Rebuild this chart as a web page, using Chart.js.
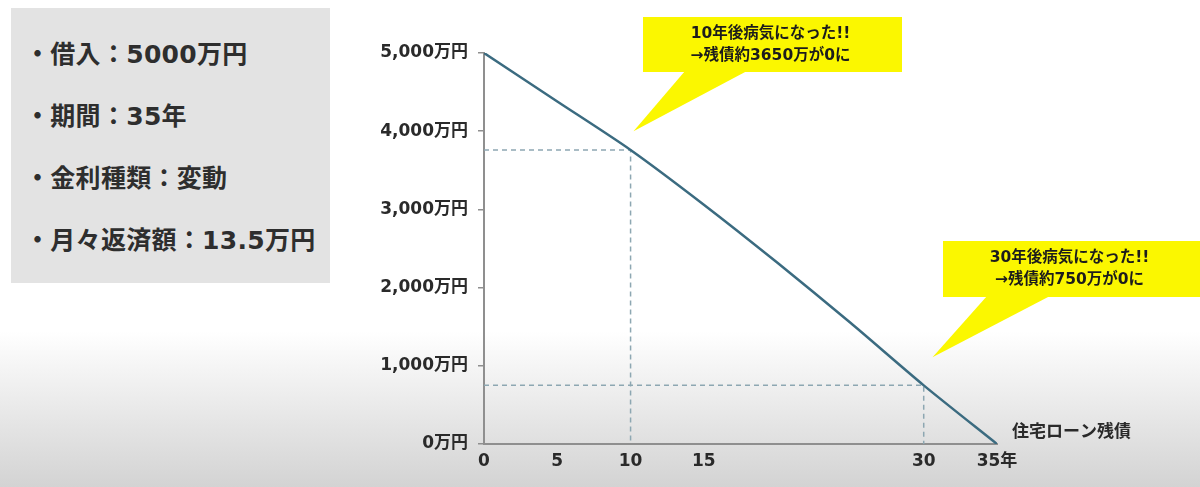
<!DOCTYPE html>
<html>
<head>
<meta charset="utf-8">
<script src="https://cdn.jsdelivr.net/npm/chart.js@4.4.0/dist/chart.umd.min.js"></script>
<style>
  html, body { margin: 0; padding: 0; }
  body {
    width: 1200px; height: 487px; overflow: hidden; position: relative;
    background: linear-gradient(to bottom, #ffffff 0%, #ffffff 68%, #d3d3d3 100%);
    font-family: "DejaVu Sans", "Noto Sans CJK JP", sans-serif;
  }
  #info {
    position: absolute; left: 11px; top: 8px; width: 319px; height: 275px;
    background: #e3e3e3; box-sizing: border-box; padding: 16px 0 0 14px;
  }
  #info p { margin: 0; line-height: 62px; font-size: 25px; font-weight: bold; color: #2e2e2e; white-space: nowrap; letter-spacing: 0.3px; }
  #ChartLoan { position: absolute; left: 0; top: 0; }
</style>
</head>
<body>
<div id="info">
  <p>・借入：5000万円</p>
  <p>・期間：35年</p>
  <p>・金利種類：変動</p>
  <p>・月々返済額：13.5万円</p>
</div>
<canvas id="ChartLoan" width="1200" height="487"></canvas>
<script>
  // 経過年数と残債(万円)
  var years = [0, 5, 10, 15, 20, 25, 30, 35];
  var balance = [5000, 4380, 3760, 3060, 2320, 1550, 750, 0];
  var xTicks = [0, 5, 10, 15, 30, 35];
  var markYears = [10, 30];
  var seriesLabel = '住宅ローン残債';
  var callouts = [
    { lines: ['10年後病気になった!!', '→残債約3650万が0に'], box: [643, 17, 902, 72], base: [685, 747], tip: [10.2, 4000] },
    { lines: ['30年後病気になった!!', '→残債約750万が0に'], box: [943, 241, 1200, 297], base: [987, 1050], tip: [30.6, 1110] }
  ];

  var fontFam = '"DejaVu Sans", "Noto Sans CJK JP", sans-serif';

  var points = [];
  for (var i in years) {
    points.push({ x: years[i], y: balance[i] });
  }

  var guidePlugin = {
    id: 'guides',
    beforeDatasetsDraw: function(chart) {
      var c = chart.ctx, xs = chart.scales.x, ys = chart.scales.y;
      c.save();
      c.strokeStyle = '#8da7b2';
      c.lineWidth = 1.5;
      c.setLineDash([5, 4]);
      markYears.forEach(function(yr) {
        var v = balance[years.indexOf(yr)];
        var px = xs.getPixelForValue(yr), py = ys.getPixelForValue(v);
        c.beginPath();
        c.moveTo(xs.getPixelForValue(0), py);
        c.lineTo(px, py);
        c.lineTo(px, ys.getPixelForValue(0));
        c.stroke();
      });
      c.restore();
    },
    afterDraw: function(chart) {
      var c = chart.ctx, xs = chart.scales.x, ys = chart.scales.y;
      c.save();
      callouts.forEach(function(co) {
        var b = co.box;
        c.fillStyle = '#fbf700';
        c.fillRect(b[0], b[1], b[2] - b[0], b[3] - b[1]);
        c.beginPath();
        c.moveTo(co.base[0], b[3] - 1);
        c.lineTo(xs.getPixelForValue(co.tip[0]), ys.getPixelForValue(co.tip[1]));
        c.lineTo(co.base[1], b[3] - 1);
        c.closePath();
        c.fill();
        c.fillStyle = '#1c1c1c';
        c.font = 'bold 15.5px ' + fontFam;
        c.textAlign = 'center';
        c.textBaseline = 'middle';
        var cx = (b[0] + Math.min(b[2], 1203)) / 2 - 2;
        c.fillText(co.lines[0], cx, b[1] + 17);
        c.fillText(co.lines[1], cx, b[1] + 39);
      });
      // series name next to the end of the line
      var last = years.length - 1;
      c.fillStyle = '#2a2a2a';
      c.font = 'bold 17px ' + fontFam;
      c.textAlign = 'left';
      c.textBaseline = 'middle';
      c.fillText(seriesLabel, xs.getPixelForValue(years[last]) + 15, ys.getPixelForValue(balance[last]) - 11);
      c.restore();
    }
  };

  var chartdata = {
    datasets: [
      {
        label: seriesLabel,
        data: points,
        borderColor: '#3b6b80',
        borderWidth: 2.5,
        pointRadius: 0,
        fill: false,
        tension: 0.25
      }
    ]
  };

  const chartLoan = document.getElementById('ChartLoan');
  if (chartLoan) {
    var ctx = chartLoan.getContext('2d');
    var lineGraph = new Chart(ctx, {
      type: 'line',
      data: chartdata,
      plugins: [guidePlugin],
      options: {
        responsive: false,
        animation: false,
        layout: { padding: { left: 0, right: 203, top: 53, bottom: 13 } },
        plugins: { legend: { display: false }, tooltip: { enabled: false } },
        scales: {
          x: {
            type: 'linear',
            min: 0,
            max: 35,
            afterBuildTicks: function(scale) {
              scale.ticks = xTicks.map(function(v) { return { value: v }; });
            },
            afterFit: function(scale) { scale.height = 30; },
            grid: { display: false, drawTicks: false },
            border: { display: true, color: '#8f8f8f', width: 2 },
            ticks: {
              padding: 7,
              maxRotation: 0,
              autoSkip: false,
              color: '#2a2a2a',
              font: { family: fontFam, size: 17, weight: 'bold' },
              callback: function(v) { return v === 35 ? v + '年' : String(v); }
            }
          },
          y: {
            min: 0,
            max: 5000,
            afterFit: function(scale) { scale.width = 484; },
            grid: { drawOnChartArea: false, drawTicks: true, tickLength: 6, color: '#8f8f8f', lineWidth: 1.5 },
            border: { display: true, color: '#8f8f8f', width: 2 },
            ticks: {
              stepSize: 1000,
              padding: 10,
              color: '#2a2a2a',
              font: { family: fontFam, size: 17, weight: 'bold' },
              callback: function(v) { return v.toLocaleString('en-US') + '万円'; }
            }
          }
        }
      }
    });
  }
</script>
</body>
</html>
